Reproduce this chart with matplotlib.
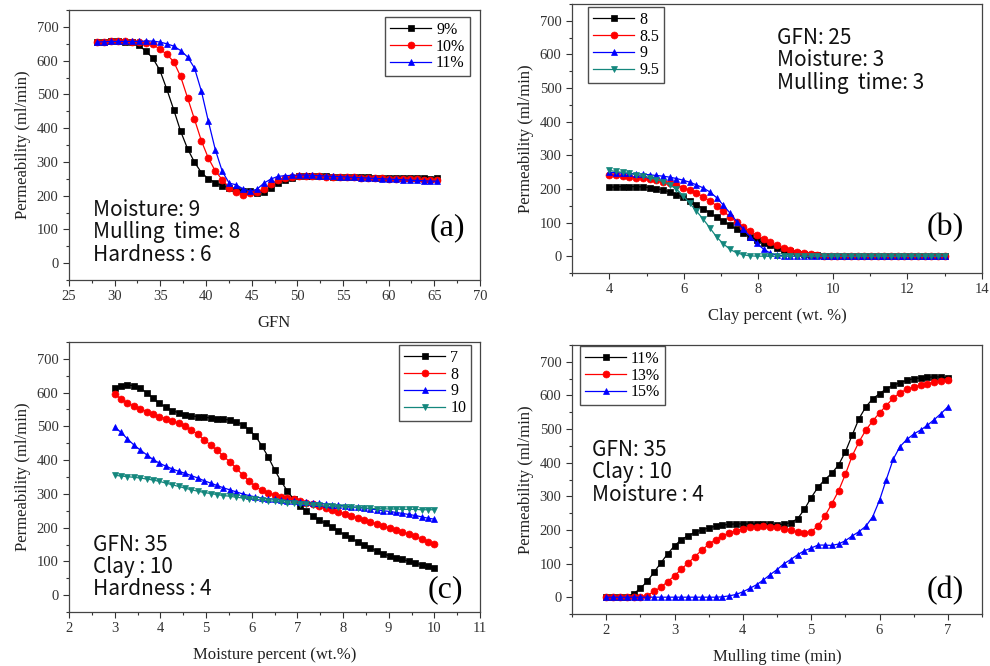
import matplotlib
matplotlib.use("Agg")
import matplotlib.pyplot as plt
from matplotlib.ticker import MultipleLocator, AutoMinorLocator
import numpy as np

# ---- (a) permeability vs GFN ----
gfn = np.round(28.1 + 0.76 * np.arange(50), 2)
a_9 = [655, 656, 657, 657, 656, 655,
       645, 628, 607, 572, 516, 455, 391, 339, 299, 268, 250, 238, 229, 222,
       217, 215, 213, 208, 212, 224, 238, 247,
       253, 257, 258, 258, 257, 257, 256, 256, 255, 255, 254, 254, 253, 253,
       253, 252, 252, 252, 251, 251, 250, 252]
a_10 = [655, 656, 657, 657, 657, 656, 655, 653, 648,
        634, 619, 597, 553, 490, 426, 362, 311, 273, 247, 224, 211, 202, 207,
        211, 220, 235, 246, 252, 256, 258,
        259, 258, 257, 256, 256, 255, 254, 254, 253, 252, 252, 251, 250, 250,
        249, 248, 248, 247, 246, 246]
a_11 = [655, 656, 657, 657, 657, 657, 657, 658, 658,
        655, 650, 643, 630, 611, 578, 509, 420, 336, 272, 237, 232, 220, 213,
        219, 237, 249, 257, 259, 260, 261,
        261, 260, 259, 258, 257, 256, 255, 254, 253, 252, 251, 250, 249, 248,
        247, 246, 245, 244, 243, 243]

# ---- (b) permeability vs clay percent ----
clay = np.round(4.0 + 0.18 * np.arange(51), 2)
b_8 = [205, 206, 207, 207, 207, 206, 204, 201, 197, 191, 183, 175, 165, 153,
       141, 129, 116, 104, 92, 80, 69, 58, 48, 40, 32, 25, 19, 14, 10, 7, 5,
       3, 2, 1] + [0] * 17
b_85 = [242, 240, 238, 236, 234, 232, 229, 226, 222, 217, 211, 204, 196, 187,
        177, 164, 150, 134, 117, 101, 87, 74, 62, 51, 41, 32, 24, 18, 13, 9,
        6, 4, 2, 1] + [0] * 17
b_9 = [250, 248, 247, 246, 245, 244, 242, 240, 238, 235, 231, 226, 220, 212,
       203, 191, 174, 152, 128, 103, 80, 58, 38, 21, 9, 3, 1] + [0] * 24
b_95 = [255, 252, 249, 246, 242, 238, 233, 228, 222, 212, 200, 180, 157, 134,
        110, 84, 57, 37, 20, 10, 4, 1] + [0] * 29

# ---- (c) permeability vs moisture percent ----
moist = np.round(3.0 + 0.14 * np.arange(51), 2)
c_7 = [614, 619, 622, 621, 613, 600, 583, 568, 557, 547, 540, 535, 531, 529,
       527, 525, 523, 521, 519, 514, 505, 490, 472, 443, 410, 372, 338, 309,
       284, 264, 250, 235, 222, 213, 203, 190, 178, 168, 158, 149, 140, 130,
       123, 116, 111, 106, 100, 95, 90, 86, 81]
c_8 = [596, 581, 569, 560, 552, 544, 537, 529, 523, 517, 509, 500, 490, 476,
       460, 445, 429, 412, 395, 377, 356, 338, 322, 311, 303, 297, 292, 288,
       284, 279, 274, 270, 265, 259, 253, 247, 241, 235, 229, 223, 217, 211,
       205, 199, 193, 187, 181, 174, 166, 158, 151]
c_9 = [498, 482, 463, 445, 430, 416, 402, 391, 382, 374, 367, 361, 354, 347,
       339, 332, 325, 318, 312, 306, 300, 295, 291, 288, 286, 284, 282, 280,
       279, 277, 276, 274, 272, 270, 268, 266, 264, 262, 260, 258, 255, 253,
       250, 248, 245, 242, 239, 236, 232, 228, 225]
c_10 = [355, 353, 351, 349, 347, 344, 341, 337, 332, 327, 322, 317, 312, 308,
        304, 301, 298, 295, 293, 290, 288, 286, 284, 282, 280, 278, 276, 274,
        272, 270, 269, 267, 266, 264, 263, 262, 261, 260, 259, 258, 257, 256,
        256, 255, 255, 254, 254, 254, 253, 253, 253]

# ---- (d) permeability vs mulling time ----
mull = np.round(2.0 + 0.1 * np.arange(51), 2)
d_11 = [0, 0, 0, 0, 10, 26, 47, 74, 102, 129, 153, 171, 183, 193, 200, 206,
        211, 214, 217, 218, 218, 218, 218, 218, 217, 216, 217, 222, 233, 261,
        296, 327, 350, 368, 393, 432, 482, 531, 566, 590, 605, 620, 630, 638,
        645, 650, 652, 654, 655, 655, 653]
d_13 = [0, 0, 0, 0, 0, 0, 5, 17, 30, 46, 64, 83, 102, 121, 140, 157, 171,
        182, 191, 198, 204, 208, 210, 211, 210, 208, 204, 199, 194, 192, 195,
        212, 241, 277, 316, 365, 420, 462, 497, 524, 548, 570, 592, 608, 618,
        625, 630, 635, 639, 642, 645]
d_15 = [0] * 17 + [1, 4, 8, 16, 26, 37, 51, 67, 82, 99, 112, 126, 138, 146,
                   155, 155, 154, 158, 168, 182, 195, 211, 239, 288, 350, 410,
                   448, 469, 485, 497, 511, 528, 546, 566]

TEAL = "#14877d"
SERIF = "Liberation Serif"
SANS = "Noto Sans CJK KR"
W, H = 990, 666


def px_axes(fig, left, top, right, bottom):
    """Add axes using pixel box of the reference image."""
    return fig.add_axes([left / W, 1 - bottom / H, (right - left) / W, (bottom - top) / H])


def style_axes(ax, xlabel, xlim, xmajor):
    ax.set_ylim(-50, 750)
    ax.set_xlim(*xlim)
    ax.yaxis.set_major_locator(MultipleLocator(100))
    ax.yaxis.set_minor_locator(MultipleLocator(50))
    ax.xaxis.set_major_locator(MultipleLocator(xmajor))
    ax.xaxis.set_minor_locator(AutoMinorLocator(2))
    ax.set_yticks(np.arange(0, 701, 100))
    ax.tick_params(which="major", direction="out", length=4, width=0.8,
                   colors="#333333", labelsize=10.5, top=False, right=False)
    ax.tick_params(which="minor", direction="out", length=2.5, width=0.8,
                   colors="#333333", top=False, right=False)
    for lab in ax.get_xticklabels() + ax.get_yticklabels():
        lab.set_fontfamily(SERIF)
    for sp in ax.spines.values():
        sp.set_color("#444444")
        sp.set_linewidth(0.9)
    ax.set_xlabel(xlabel, fontfamily=SERIF, fontsize=12, color="#222222", labelpad=8)
    ax.set_ylabel("Permeability (ml/min)", fontfamily=SERIF, fontsize=12,
                  color="#222222", labelpad=4)


def plot_series(ax, x, series, labels, markers, colors):
    for y, lab, m, c in zip(series, labels, markers, colors):
        ax.plot(x, y, marker=m, color=c, label=lab, linewidth=0.9,
                markersize=5, markeredgewidth=0.5)


def add_legend(ax, loc, anchor):
    leg = ax.legend(loc=loc, bbox_to_anchor=anchor, borderaxespad=0,
                    fancybox=False, edgecolor="#222222", handlelength=2.6,
                    handletextpad=0.3, labelspacing=0.05, borderpad=0.3,
                    prop={"family": SERIF, "size": 11.5})
    leg.get_frame().set_linewidth(1.0)


def add_note(ax, x, y, text):
    ax.text(x, y, text, transform=ax.transAxes, fontfamily=SANS, fontsize=15,
            va="top", linespacing=1.02, color="#111111")


def add_tag(ax, x, y, text):
    ax.text(x, y, text, transform=ax.transAxes, fontfamily=SERIF,
            fontsize=23, ha="center", va="center")


fig = plt.figure(figsize=(W / 100, H / 100), dpi=100)

# (a)
ax = px_axes(fig, 69, 10, 480, 280)
plot_series(ax, gfn, [a_9, a_10, a_11], ["9%", "10%", "11%"],
            ["s", "o", "^"], ["black", "red", "blue"])
style_axes(ax, "GFN", (25, 70), 5)
add_legend(ax, "upper right", (0.976, 0.974))
add_note(ax, 0.058, 0.30, "Moisture: 9\nMulling  time: 8\nHardness : 6")
add_tag(ax, 0.92, 0.193, "(a)")

# (b)
ax = px_axes(fig, 572, 4, 982, 273)
plot_series(ax, clay, [b_8, b_85, b_9, b_95], ["8", "8.5", "9", "9.5"],
            ["s", "o", "^", "v"], ["black", "red", "blue", TEAL])
style_axes(ax, "Clay percent (wt. %)", (3, 14), 2)
add_legend(ax, "upper left", (0.039, 0.989))
add_note(ax, 0.5, 0.915, "GFN: 25\nMoisture: 3\nMulling  time: 3")
add_tag(ax, 0.91, 0.167, "(b)")

# (c)
ax = px_axes(fig, 69, 342, 480, 612)
plot_series(ax, moist, [c_7, c_8, c_9, c_10], ["7", "8", "9", "10"],
            ["s", "o", "^", "v"], ["black", "red", "blue", TEAL])
style_axes(ax, "Moisture percent (wt.%)", (2, 11), 1)
add_legend(ax, "upper right", (0.978, 0.989))
add_note(ax, 0.058, 0.29, "GFN: 35\nClay : 10\nHardness : 4")
add_tag(ax, 0.915, 0.081, "(c)")

# (d)
ax = px_axes(fig, 572, 345, 982, 614)
plot_series(ax, mull, [d_11, d_13, d_15], ["11%", "13%", "15%"],
            ["s", "o", "^"], ["black", "red", "blue"])
style_axes(ax, "Mulling time (min)", (1.5, 7.5), 1)
add_legend(ax, "upper left", (0.0195, 0.996))
add_note(ax, 0.048, 0.65, "GFN: 35\nClay : 10\nMoisture : 4")
add_tag(ax, 0.91, 0.086, "(d)")

plt.savefig("out.png", dpi=100)
plt.close()
